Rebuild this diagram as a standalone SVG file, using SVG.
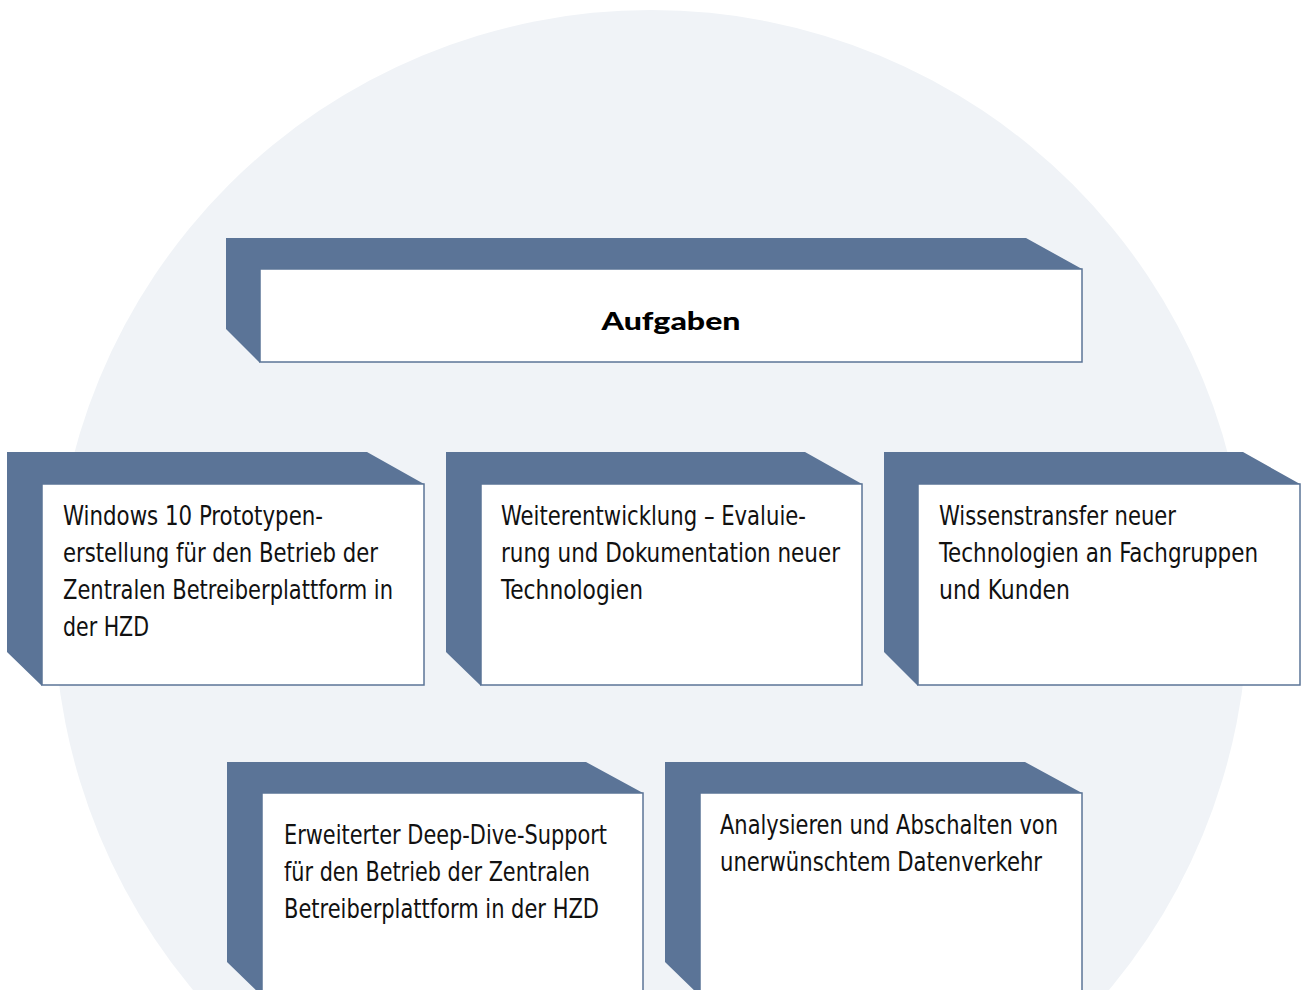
<svg xmlns="http://www.w3.org/2000/svg" width="1302" height="990" viewBox="0 0 1302 990">
<style>
.bevel{fill:#5b7497;}
.face{fill:#ffffff;stroke:#5b7497;stroke-width:1.5;}
.t{font-family:"DejaVu Sans Condensed","Liberation Sans Narrow","Liberation Sans",sans-serif;font-size:27px;fill:#111111;}
.h{font-family:Lato,"Liberation Sans",sans-serif;font-weight:900;font-size:25px;fill:#000000;}
</style>
<rect width="1302" height="990" fill="#ffffff"/>
<circle cx="651" cy="607" r="597" fill="#f0f3f7"/>
<g id="aufgaben">
<polygon class="bevel" points="226,238 1026,238 1082,269 260,269 260,363 226,329"/>
<rect class="face" x="260" y="269" width="822" height="93"/>
<text class="h" x="671" y="330" text-anchor="middle" textLength="139" lengthAdjust="spacingAndGlyphs">Aufgaben</text>
</g>
<g id="box1">
<polygon class="bevel" points="7,452 367,452 424,484 42,484 42,686 7,652"/>
<rect class="face" x="42" y="484" width="382" height="201"/>
<text class="t" x="63" y="525" textLength="260" lengthAdjust="spacingAndGlyphs">Windows 10 Prototypen-</text>
<text class="t" x="63" y="562" textLength="315" lengthAdjust="spacingAndGlyphs">erstellung für den Betrieb der</text>
<text class="t" x="63" y="599" textLength="330" lengthAdjust="spacingAndGlyphs">Zentralen Betreiberplattform in</text>
<text class="t" x="63" y="636" textLength="86" lengthAdjust="spacingAndGlyphs">der HZD</text>
</g>
<g id="box2">
<polygon class="bevel" points="446,452 805,452 862,484 481,484 481,686 446,652"/>
<rect class="face" x="481" y="484" width="381" height="201"/>
<text class="t" x="501" y="525" textLength="305" lengthAdjust="spacingAndGlyphs">Weiterentwicklung – Evaluie-</text>
<text class="t" x="501" y="562" textLength="339" lengthAdjust="spacingAndGlyphs">rung und Dokumentation neuer</text>
<text class="t" x="501" y="599" textLength="142" lengthAdjust="spacingAndGlyphs">Technologien</text>
</g>
<g id="box3">
<polygon class="bevel" points="884,452 1243,452 1300,484 918,484 918,686 884,652"/>
<rect class="face" x="918" y="484" width="382" height="201"/>
<text class="t" x="939" y="525" textLength="237" lengthAdjust="spacingAndGlyphs">Wissenstransfer neuer</text>
<text class="t" x="939" y="562" textLength="319" lengthAdjust="spacingAndGlyphs">Technologien an Fachgruppen</text>
<text class="t" x="939" y="599" textLength="131" lengthAdjust="spacingAndGlyphs">und Kunden</text>
</g>
<g id="box4">
<polygon class="bevel" points="227,762 586,762 643,793 262,793 262,996 227,962"/>
<rect class="face" x="262" y="793" width="381" height="202"/>
<text class="t" x="284" y="844" textLength="323" lengthAdjust="spacingAndGlyphs">Erweiterter Deep-Dive-Support</text>
<text class="t" x="284" y="881" textLength="306" lengthAdjust="spacingAndGlyphs">für den Betrieb der Zentralen</text>
<text class="t" x="284" y="918" textLength="315" lengthAdjust="spacingAndGlyphs">Betreiberplattform in der HZD</text>
</g>
<g id="box5">
<polygon class="bevel" points="665,762 1025,762 1082,793 700,793 700,996 665,962"/>
<rect class="face" x="700" y="793" width="382" height="202"/>
<text class="t" x="720" y="834" textLength="338" lengthAdjust="spacingAndGlyphs">Analysieren und Abschalten von</text>
<text class="t" x="720" y="871" textLength="322" lengthAdjust="spacingAndGlyphs">unerwünschtem Datenverkehr</text>
</g>
<g id="connectors"></g>
</svg>
